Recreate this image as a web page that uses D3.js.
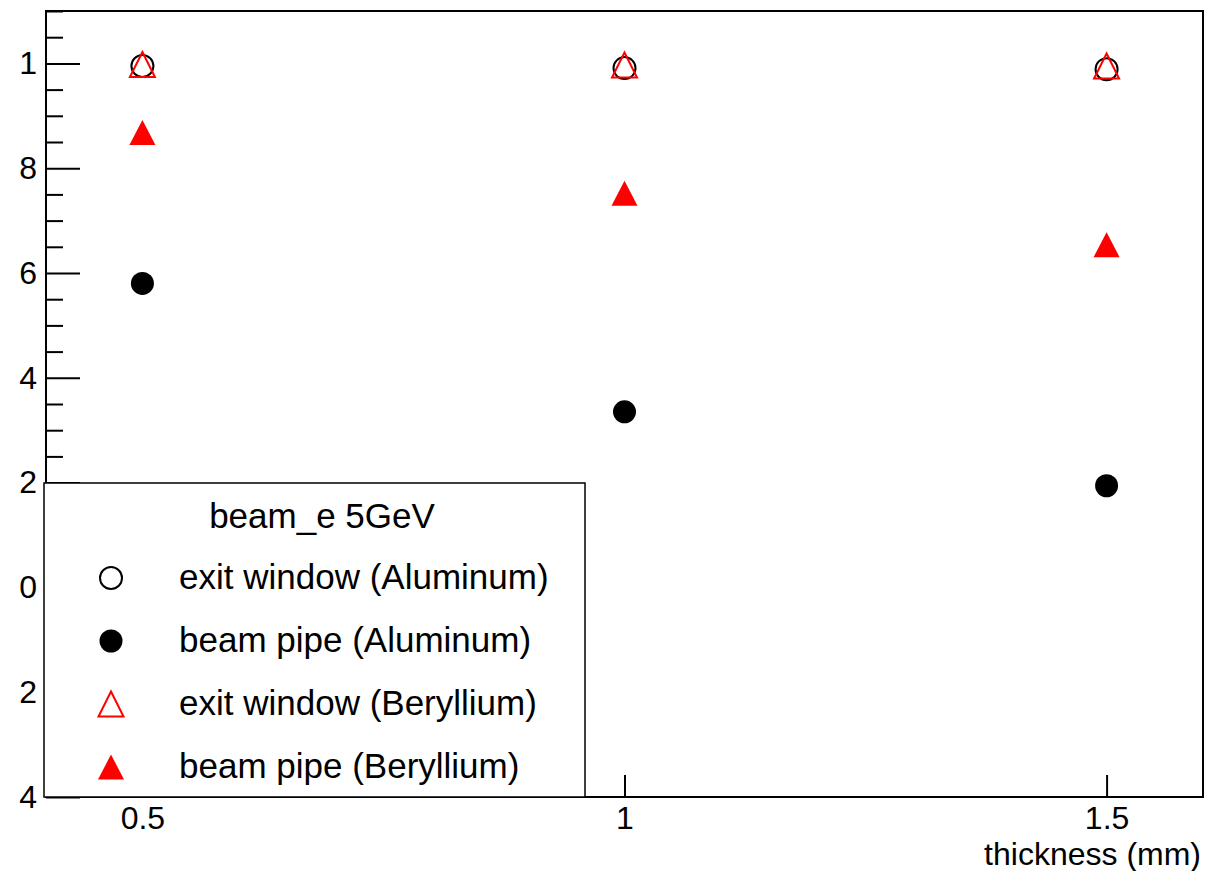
<!DOCTYPE html>
<html>
<head>
<meta charset="utf-8">
<script src="https://cdn.jsdelivr.net/npm/d3@7"></script>
<style>
	body { margin: 0; background: #fff; }
	svg { display: block; font-family: "Liberation Sans", Arial, Helvetica, sans-serif; }
	.axis path.domain { display: none; }
	.axis line { stroke: #000; stroke-width: 2; }
	.axis text { font-size: 32px; fill: #000; }
</style>
</head>
<body>
<div id="chart"></div>
<script>
// data
let thickness = [0.5, 1, 1.5];
let exitAl = [0.995, 0.991, 0.989];
let pipeAl = [0.580, 0.335, 0.194];
let exitBe = [0.998, 0.997, 0.995];
let pipeBe = [0.868, 0.752, 0.654];

let yTicks = [1, 0.8, 0.6, 0.4, 0.2, 0, -0.2, -0.4];
let yTickLabels = ["1", "8", "6", "4", "2", "0", "2", "4"];
let xTicks = [0.5, 1, 1.5];
let xTickLabels = ["0.5", "1", "1.5"];

let legendTitle = "beam_e 5GeV";
let seriesNames = ["exit window (Aluminum)", "beam pipe (Aluminum)", "exit window (Beryllium)", "beam pipe (Beryllium)"];
let xTitle = "thickness (mm)";

let W = 1209, H = 871;
let frame = {left: 46, right: 1203, top: 11, bottom: 797};

let svg = d3.select("#chart").append("svg")
	.attr("width", W)
	.attr("height", H);

let xScale = d3.scaleLinear()
	.domain([0.4, 1.6])
	.range([frame.left, frame.right]);

let yScale = d3.scaleLinear()
	.domain([-0.4, 1.1])
	.range([frame.bottom, frame.top]);

// minor y ticks every 0.05
let minorTicks = d3.range(-0.4, 1.1001, 0.05)
	.map(v => Math.round(v * 100) / 100)
	.filter(v => yTicks.indexOf(v) < 0);

svg.append("g")
	.attr("class", "axis y-minor")
	.attr("transform", "translate(" + frame.left + ",0)")
	.call(d3.axisLeft(yScale)
		.tickValues(minorTicks)
		.tickSizeInner(-17)
		.tickSizeOuter(0)
		.tickFormat(""));

svg.append("g")
	.attr("class", "axis y-axis")
	.attr("transform", "translate(" + frame.left + ",0)")
	.call(d3.axisLeft(yScale)
		.tickValues(yTicks)
		.tickSizeInner(-34)
		.tickSizeOuter(0)
		.tickPadding(9)
		.tickFormat((d, i) => yTickLabels[i]));

svg.append("g")
	.attr("class", "axis x-axis")
	.attr("transform", "translate(0," + frame.bottom + ")")
	.call(d3.axisBottom(xScale)
		.tickValues(xTicks)
		.tickSizeInner(-22)
		.tickSizeOuter(0)
		.tickPadding(9)
		.tickFormat((d, i) => xTickLabels[i]));

svg.append("text")
	.attr("x", frame.right - 2)
	.attr("y", 865)
	.attr("text-anchor", "end")
	.style("font-size", "32px")
	.text(xTitle);

// frame
svg.append("rect")
	.attr("x", frame.left)
	.attr("y", frame.top)
	.attr("width", frame.right - frame.left)
	.attr("height", frame.bottom - frame.top)
	.attr("fill", "none")
	.attr("stroke", "#000")
	.attr("stroke-width", 2);

// markers
let triUp = (hw, hh) => "M0," + (-hh) + "L" + hw + "," + hh + "L" + (-hw) + "," + hh + "Z";

function drawMarker(g, kind) {
	if (kind === "openCircle") {
		g.append("circle").attr("r", 11).attr("fill", "none").attr("stroke", "#000").attr("stroke-width", 2);
	} else if (kind === "fullCircle") {
		g.append("circle").attr("r", 11.5).attr("fill", "#000");
	} else if (kind === "openTriangle") {
		g.append("path").attr("d", triUp(12.5, 12.5)).attr("fill", "none").attr("stroke", "#ff0000").attr("stroke-width", 2);
	} else {
		g.append("path").attr("d", triUp(13, 12.5)).attr("fill", "#ff0000");
	}
}

let series = [
	{name: seriesNames[0], values: exitAl, kind: "openCircle"},
	{name: seriesNames[1], values: pipeAl, kind: "fullCircle"},
	{name: seriesNames[2], values: exitBe, kind: "openTriangle"},
	{name: seriesNames[3], values: pipeBe, kind: "fullTriangle"}
];

series.forEach(s => {
	svg.append("g")
		.attr("class", "series")
		.selectAll("g")
		.data(s.values)
		.enter()
		.append("g")
		.attr("transform", (d, i) => "translate(" + xScale(thickness[i]) + "," + yScale(d) + ")")
		.each(function () { drawMarker(d3.select(this), s.kind); });
});

// legend
let legend = svg.append("g").attr("class", "legend");
let lg = {x0: 44, x1: 585, y0: 483, y1: 797};

legend.append("rect")
	.attr("x", lg.x0)
	.attr("y", lg.y0)
	.attr("width", lg.x1 - lg.x0)
	.attr("height", lg.y1 - lg.y0)
	.attr("fill", "#fff")
	.attr("stroke", "#000")
	.attr("stroke-width", 1.5);

legend.append("text")
	.attr("x", 322)
	.attr("y", 528)
	.attr("text-anchor", "middle")
	.style("font-size", "35px")
	.text(legendTitle);

let rows = legend.selectAll(".legend-row")
	.data(series)
	.enter()
	.append("g")
	.attr("class", "legend-row")
	.attr("transform", (d, i) => "translate(0," + (578 + i * 63) + ")");

rows.append("g")
	.attr("transform", "translate(111,0)")
	.each(function (d) { drawMarker(d3.select(this), d.kind); });

rows.append("text")
	.attr("x", 179)
	.attr("y", 11)
	.style("font-size", "35px")
	.text(d => d.name);
</script>
</body>
</html>
